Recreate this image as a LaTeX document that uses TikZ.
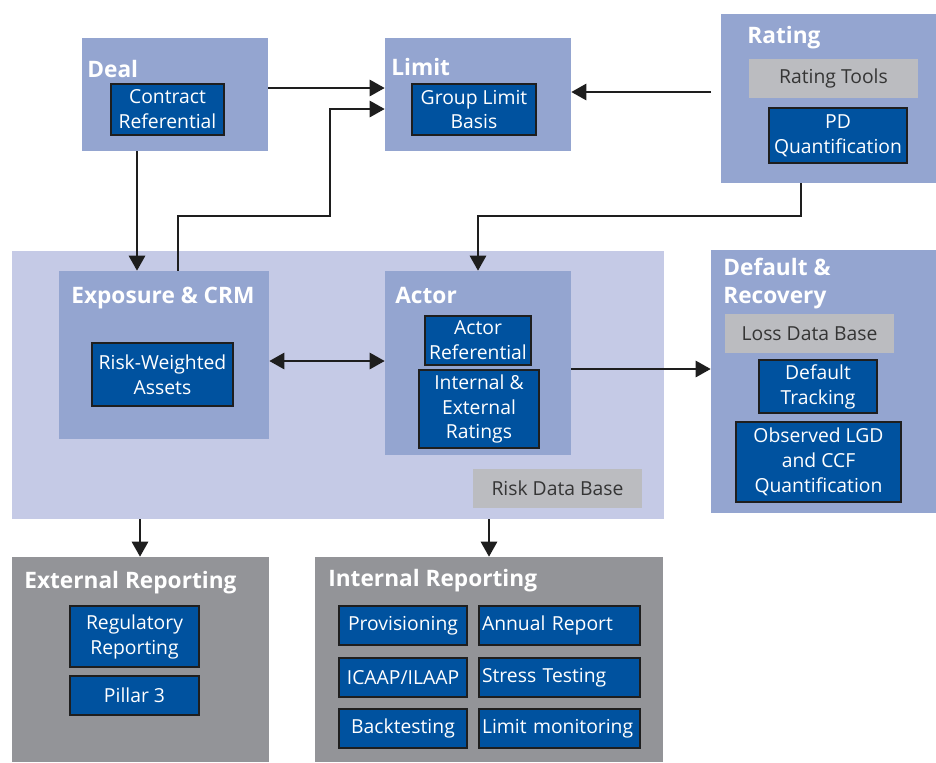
\documentclass[tikz,border=0pt]{standalone}
\usepackage{fontspec}
\setmainfont{Open Sans}
\usetikzlibrary{arrows.meta}

\definecolor{midblue}{HTML}{94A5D0}
\definecolor{paleblue}{HTML}{C5CAE6}
\definecolor{deepblue}{HTML}{00529F}
\definecolor{stone}{HTML}{BBBCC0}
\definecolor{slate}{HTML}{939498}
\definecolor{ink}{HTML}{1E1E1E}

\tikzset{
  box/.style 2 args={minimum width=#1*0.02cm, minimum height=#2*0.02cm},
  group/.style={fill=midblue, inner sep=0pt},
  zone/.style={fill=paleblue, inner sep=0pt},
  report/.style={fill=slate, inner sep=0pt},
  item/.style={fill=deepblue, draw=ink, line width=0.6pt, inner sep=0pt,
    text=white, align=center, font=\fontsize{11}{14.2}\selectfont},
  itemleft/.style={item, text width=3.1cm, align=left,
    execute at begin node={\hyphenpenalty=10000}},
  store/.style={fill=stone, inner sep=0pt, text=ink!90,
    font=\fontsize{11}{14.2}\selectfont},
  title/.style={text=white, font=\bfseries\fontsize{12.9}{16}\selectfont,
    inner sep=0pt, anchor=base west},
  flow/.style={-{Triangle[length=0.3cm,width=0.33cm]}, line width=0.8pt, draw=ink},
  twoway/.style={flow, {Triangle[length=0.3cm,width=0.33cm]}-{Triangle[length=0.3cm,width=0.33cm]}},
}

\begin{document}
\begin{tikzpicture}[x=0.02cm, y=-0.02cm]
    \useasboundingbox (0,0) rectangle (936,762);

    % risk data base area
    \node[zone, box={652}{268}] (rdb) at (338,385) {};

    % deal
    \node[group, box={186}{113}] (deal) at (175,94.5) {};
    \node[title] (dealT) at (87,77) {Deal};
    \node[item, box={113}{51}] (contract) at (167.5,109.5) {Contract\\Referential};

    % limit
    \node[group, box={186}{113}] (limit) at (478,94.5) {};
    \node[title] (limitT) at (391,75) {Limit};
    \node[item, box={124}{51}] (glb) at (474,109.5) {Group Limit\\Basis};

    % rating
    \node[group, box={215}{169}] (rating) at (828.5,98.5) {};
    \node[title] (ratingT) at (747,43) {Rating};
    \node[store, box={169}{39}] (tools) at (833.5,78.5) {Rating Tools};
    \node[item, box={138}{55}] (pd) at (838,135.5) {PD\\Quantification};

    % exposure
    \node[group, box={210}{168}] (expo) at (164,355) {};
    \node[title] (expoT) at (71,303) {Exposure \& CRM};
    \node[item, box={141}{63}] (rwa) at (162.5,374.5) {Risk-Weighted\\Assets};

    % actor
    \node[group, box={186}{184}] (actor) at (478,363) {};
    \node[title] (actorT) at (395,303) {Actor};
    \node[item, box={106}{49}] (aref) at (478,340.5) {Actor\\Referential};
    \node[item, box={120}{78}] (ratings) at (479,409) {Internal \&\\External\\Ratings};
    \node[store, box={169}{39}] (riskdb) at (557.5,488.5) {Risk Data Base};

    % default and recovery
    \node[group, box={225}{263}] (dr) at (823.5,381.5) {};
    \node[title] (drT) at (723,275) {Default \&};
    \node[title] (drT2) at (723,303) {Recovery};
    \node[store, box={169}{39}] (lossdb) at (809.5,333.5) {Loss Data Base};
    \node[item, box={118}{53}] (track) at (818,386.5) {Default\\Tracking};
    \node[item, box={165}{80}] (lgd) at (818.5,462) {Observed LGD\\and CCF\\Quantification};

    % external reporting
    \node[report, box={257}{205}] (ext) at (140.5,659.5) {};
    \node[title] (extT) at (24,588) {External Reporting};
    \node[item, box={129}{61}] (regrep) at (134.5,636.5) {Regulatory\\Reporting};
    \node[item, box={129}{39}] (pillar) at (134.5,695.5) {Pillar 3};

    % internal reporting
    \node[report, box={348}{205}] (int) at (489,659.5) {};
    \node[title] (intT) at (328,586) {Internal Reporting};
    \node[item, box={128}{39}] (prov) at (403,625.5) {Provisioning};
    \node[itemleft, box={161}{39}] (annual) at (559.5,625.5) {Annual Report};
    \node[item, box={128}{39}] (icaap) at (403,677.5) {ICAAP/ILAAP};
    \node[itemleft, box={161}{39}] (stress) at (559.5,677.5) {Stress Testing};
    \node[item, box={128}{39}] (back) at (403,728.5) {Backtesting};
    \node[itemleft, box={161}{39}] (limmon) at (559.5,728.5) {Limit monitoring};

    \coordinate (rt) at (711,92);

    % connectors
    \draw[flow] (deal.east |- 0,88) -- (limit.west |- 0,88);
    \draw[flow] (expo.north -| 178,0) |- (330,216) |- (limit.west |- 0,109);
    \draw[flow] (rt) -- (limit.east |- rt);
    \draw[flow] (rating.south -| 801,0) |- (478,216) -- (actor.north -| 478,0);
    \draw[flow] (deal.south -| 137,0) -- (expo.north -| 137,0);
    \draw[twoway] (expo.east |- 0,361) -- (actor.west |- 0,361);
    \draw[flow] (actor.east |- 0,369) -- (dr.west |- 0,369);
    \draw[flow] (rdb.south -| 140,0) -- (ext.north -| 140,0);
    \draw[flow] (rdb.south -| 489,0) -- (int.north -| 489,0);
\end{tikzpicture}
\end{document}
